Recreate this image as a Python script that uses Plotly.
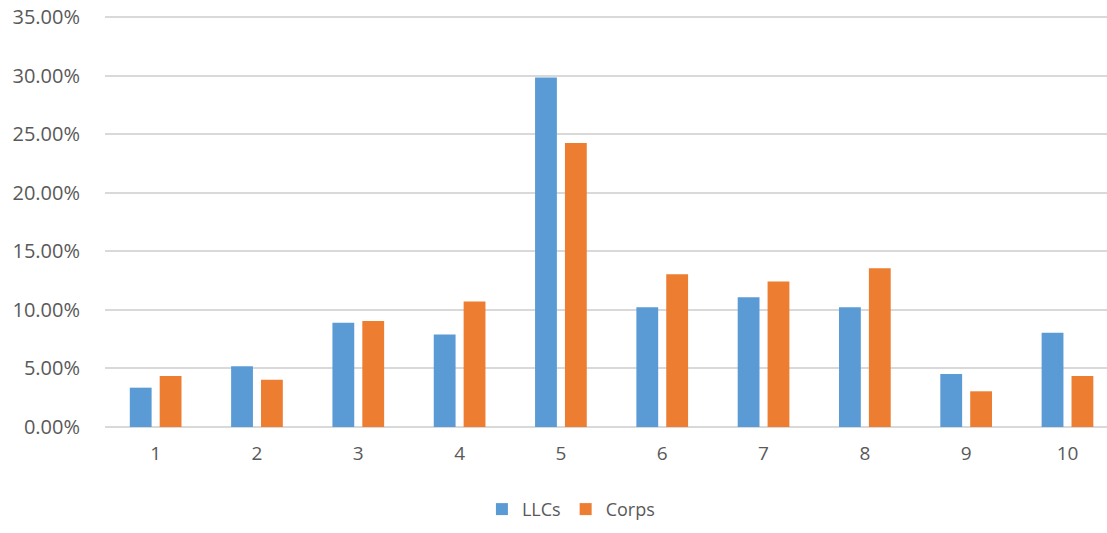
import plotly.graph_objects as go

categories = [1, 2, 3, 4, 5, 6, 7, 8, 9, 10]
llcs = [0.0336, 0.052, 0.089, 0.079, 0.2986, 0.1024, 0.1109, 0.1024, 0.0452, 0.0805]
corps = [0.0435, 0.0404, 0.0905, 0.1073, 0.2427, 0.1305, 0.1243, 0.1357, 0.0305, 0.0435]
y_ticks = [0, 0.05, 0.10, 0.15, 0.20, 0.25, 0.30, 0.35]

fig = go.Figure()
fig.add_trace(go.Bar(x=categories, y=llcs, name="LLCs", marker=dict(color="#5B9BD5", line=dict(width=0))))
fig.add_trace(go.Bar(x=categories, y=corps, name="Corps", marker=dict(color="#ED7D31", line=dict(width=0))))

font_family = "Open Sans, Lato, sans-serif"
fig.update_layout(
    width=1107, height=533,
    margin=dict(l=105, r=0, t=15, b=106, autoexpand=False),
    paper_bgcolor="white", plot_bgcolor="white",
    barmode="group", bargap=0.41, bargroupgap=0.27,
    font=dict(family=font_family, color="#595959", size=19),
    showlegend=True,
    legend=dict(orientation="h", x=0.465, xanchor="center", y=-0.2, yanchor="middle",
                font=dict(size=18, color="#595959"), itemwidth=30, tracegroupgap=0),
)
fig.update_xaxes(
    range=[0.5, 10.39], tickvals=categories, ticktext=[str(c) for c in categories],
    showgrid=False, zeroline=False, showline=False, ticks="", ticklabelstandoff=13,
    tickfont=dict(size=19, color="#595959"), automargin=False, ticklabeloverflow="allow",
)
fig.update_yaxes(
    range=[0, 0.352], tickvals=y_ticks, tickformat=".2%",
    showgrid=True, gridcolor="#D9D9D9", gridwidth=1.5, zeroline=True, zerolinecolor="#D9D9D9", zerolinewidth=1.5,
    showline=False, ticks="", ticklabelstandoff=24,
    tickfont=dict(size=20, color="#595959"), automargin=False, ticklabeloverflow="allow",
)

fig.write_html("out.html", config={"displayModeBar": False},
               post_script="document.body.style.margin='0';")
